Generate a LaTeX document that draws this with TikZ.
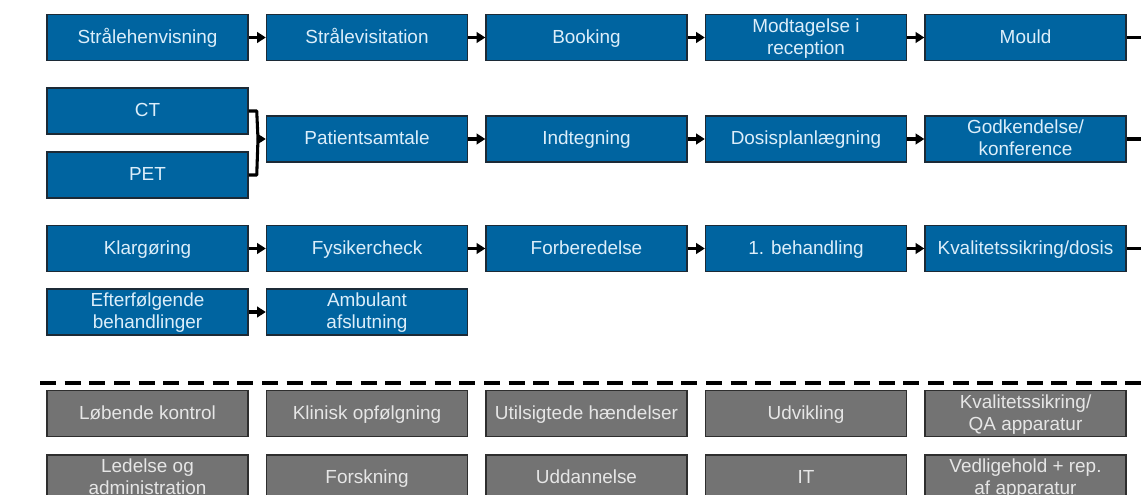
\documentclass[tikz,border=0pt]{standalone}
\usepackage{fontspec}
\setmainfont{Liberation Sans}
\usetikzlibrary{arrows.meta}
\definecolor{boxblue}{HTML}{0064A0}
\definecolor{boxblueline}{HTML}{1C2A36}
\definecolor{boxbluetext}{HTML}{DCEEFA}
\definecolor{boxgray}{HTML}{737373}
\definecolor{boxgrayline}{HTML}{2E2E2E}
\definecolor{boxgraytext}{HTML}{E6E6E6}
\tikzset{
  base/.style={rectangle, minimum width=150.75pt, minimum height=34.5pt,
    inner sep=0pt, align=center, line width=1.1pt,
    font=\fontsize{14.2}{16.4}\selectfont},
  bluebox/.style={base, draw=boxblueline, fill=boxblue, text=boxbluetext},
  graybox/.style={base, draw=boxgrayline, fill=boxgray, text=boxgraytext},
  flow/.style={line width=2.3pt, -{Triangle[length=6.5pt,width=8pt]}},
  tail/.style={line width=2.3pt},
}
% one strut per text line keeps every line on the same vertical grid
\newcommand{\tl}[1]{\rule[-0.24\baselineskip]{0pt}{\baselineskip}#1}
\begin{document}
\begin{tikzpicture}[x=0.75pt,y=-0.75pt]
\useasboundingbox (0,0) rectangle (1141,495);
\clip (0,0) rectangle (1141,495);
\fill[white] (0,0) rectangle (1141,495);

% first row
\node[bluebox] (a1) at (147.5,37.5) {\tl{Strålehenvisning}};
\node[bluebox] (a2) at (367,37.5) {\tl{Strålevisitation}};
\node[bluebox] (a3) at (586.5,37.5) {\tl{Booking}};
\node[bluebox] (a4) at (806,37.5) {\tl{Modtagelse i}\\\tl{reception}};
\node[bluebox] (a5) at (1025.5,37.5) {\tl{Mould}};
\coordinate (a6) at (1141,37.5);

% second row
\node[bluebox] (ct) at (147.5,111) {\tl{CT}};
\node[bluebox] (pet) at (147.5,175) {\tl{PET}};
\node[bluebox] (b1) at (367,139) {\tl{Patientsamtale}};
\node[bluebox] (b2) at (586.5,139) {\tl{Indtegning}};
\node[bluebox] (b3) at (806,139) {\tl{Dosisplanlægning}};
\node[bluebox] (b4) at (1025.5,139) {\tl{Godkendelse/}\\\tl{konference}};
\coordinate (b5) at (1141,139);
\coordinate (m) at (258,139);

% third row
\node[bluebox] (c1) at (147.5,248.5) {\tl{Klargøring}};
\node[bluebox] (c2) at (367,248.5) {\tl{Fysikercheck}};
\node[bluebox] (c3) at (586.5,248.5) {\tl{Forberedelse}};
\node[bluebox] (c4) at (806,248.5) {\tl{1. behandling}};
\node[bluebox] (c5) at (1025.5,248.5) {\tl{Kvalitetssikring/dosis}};
\coordinate (c6) at (1141,248.5);

% fourth row
\node[bluebox] (d1) at (147.5,312) {\tl{Efterfølgende}\\\tl{behandlinger}};
\node[bluebox] (d2) at (367,312) {\tl{Ambulant}\\\tl{afslutning}};

% flow connectors
\draw[flow] (a1) -- (a2);
\draw[flow] (a2) -- (a3);
\draw[flow] (a3) -- (a4);
\draw[flow] (a4) -- (a5);
\draw[tail] (a5) -- (a6);
\draw[tail, line join=round] (ct.east) -- ++(8,0) -- (m);
\draw[tail, line join=round] (pet.east) -- ++(8,0) -- (m);
\draw[flow] (m) -- (b1.west);
\draw[flow] (b1) -- (b2);
\draw[flow] (b2) -- (b3);
\draw[flow] (b3) -- (b4);
\draw[tail] (b4) -- (b5);
\draw[flow] (c1) -- (c2);
\draw[flow] (c2) -- (c3);
\draw[flow] (c3) -- (c4);
\draw[flow] (c4) -- (c5);
\draw[tail] (c5) -- (c6);
\draw[flow] (d1) -- (d2);

% separator
\coordinate (s1) at (40,383);
\coordinate (s2) at (1141,383);
\draw[line width=2.3pt, dash pattern=on 12pt off 6.5pt] (s1) -- (s2);

% support functions
\node[graybox] (e1) at (147.5,413.5) {\tl{Løbende kontrol}};
\node[graybox] (e2) at (367,413.5) {\tl{Klinisk opfølgning}};
\node[graybox] (e3) at (586.5,413.5) {\tl{Utilsigtede hændelser}};
\node[graybox] (e4) at (806,413.5) {\tl{Udvikling}};
\node[graybox] (e5) at (1025.5,413.5) {\tl{Kvalitetssikring/}\\\tl{QA apparatur}};
\node[graybox] (f1) at (147.5,478) {\tl{Ledelse og}\\\tl{administration}};
\node[graybox] (f2) at (367,478) {\tl{Forskning}};
\node[graybox] (f3) at (586.5,478) {\tl{Uddannelse}};
\node[graybox] (f4) at (806,478) {\tl{IT}};
\node[graybox] (f5) at (1025.5,478) {\tl{Vedligehold + rep.}\\\tl{af apparatur}};
\end{tikzpicture}
\end{document}
